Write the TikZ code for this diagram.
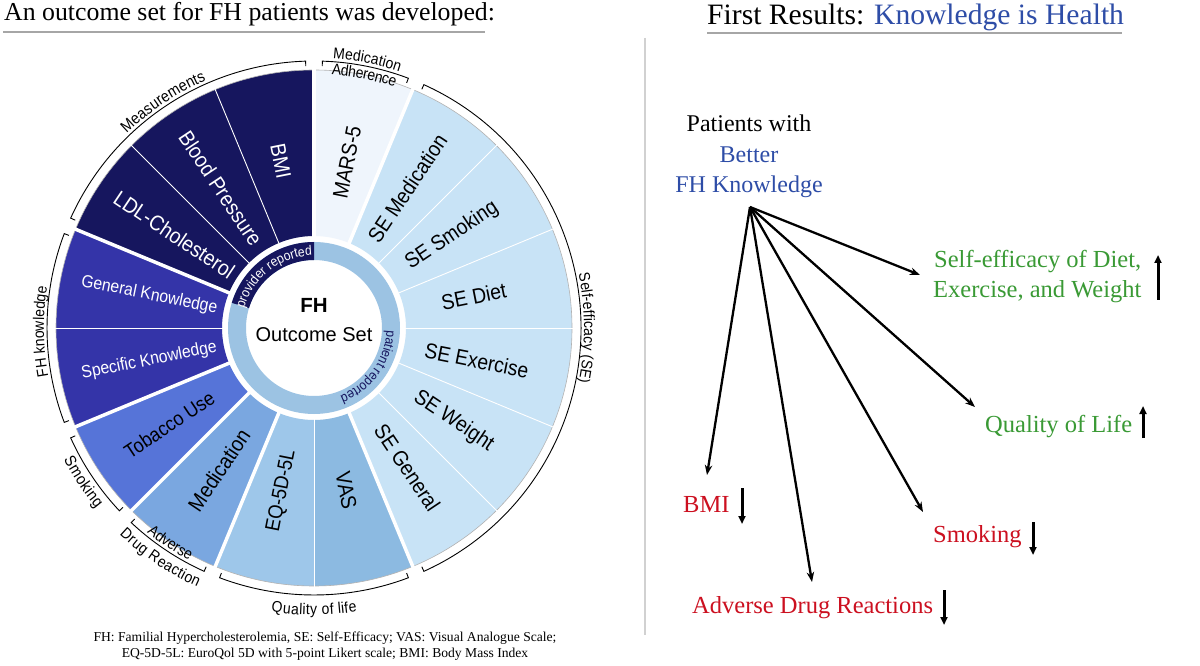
\documentclass[tikz,border=0pt]{standalone}
\usepackage{fontspec}
\setmainfont{Liberation Serif}
\newfontfamily\arialf{Liberation Sans}
\newfontfamily\narrowf[FakeStretch=0.9]{Liberation Sans}
\usetikzlibrary{decorations.text,arrows.meta}
\definecolor{navy}{RGB}{22,22,94}
\definecolor{knowc}{RGB}{52,52,168}
\definecolor{tobc}{RGB}{86,116,216}
\definecolor{medc}{RGB}{122,167,224}
\definecolor{eqc}{RGB}{158,199,234}
\definecolor{vasc}{RGB}{140,186,225}
\definecolor{sec}{RGB}{200,227,246}
\definecolor{marsc}{RGB}{239,245,252}
\definecolor{ringc}{RGB}{156,195,227}
\definecolor{kblue}{RGB}{46,77,167}
\definecolor{rgreen}{RGB}{58,154,53}
\definecolor{rred}{RGB}{204,16,32}
\newcommand\fsz[1]{\fontsize{#1}{#1}\selectfont}
\tikzset{
  seglbl/.style={font=\narrowf\fsz{21.5}, inner sep=0pt},
  knowlbl/.style={font=\narrowf\fsz{17.5}, inner sep=0pt, text=white},
  septhin/.style={draw=white, line width=0.9pt},
  septhick/.style={draw=white, line width=3.5pt},
  grparc/.style={draw=black, line width=0.9pt},
  rtext/.style={font=\fsz{24.5}, inner sep=0pt, anchor=base west},
  bigarrow/.style={-{Stealth[length=10pt,width=7.5pt]}, line width=2.3pt},
  smallarrow/.style={-{Triangle[length=8pt,width=7pt]}, line width=3pt},
  rule/.style={draw=black!35, line width=1.2pt},
}
\begin{document}
\begin{tikzpicture}[x=1pt,y=1pt]
\fill[white] (0,0) rectangle (1200,665);
\useasboundingbox (0,0) rectangle (1200,665);

% ---------- headers ----------
\node[anchor=base west, inner sep=0pt, font=\fsz{25.8}] (ltitle) at (4,644) {An outcome set for FH patients was developed:};
\draw[rule] (3,633) -- (485,633);
\node[anchor=base west, inner sep=0pt, font=\fsz{29.6}] (rtitle) at (707,640) {First Results: \textcolor{kblue}{Knowledge is Health}};
\draw[rule] (707,632) -- (1122,632);
\draw[draw=black!18, line width=2pt] (645,627) -- (645,30);

% ---------- wheel ----------
\begin{scope}[shift={(314,337)}]
  \foreach \s/\c in {67.5/marsc,45/sec,22.5/sec,0/sec,-22.5/sec,-45/sec,-67.5/sec,-90/vasc,-112.5/eqc,-135/medc,-157.5/tobc,180/knowc,157.5/knowc,135/navy,112.5/navy,90/navy}
    \fill[\c] (\s:92) arc[start angle=\s, delta angle=22.5, radius=92] -- (\s+22.5:258) arc[start angle=\s+22.5, delta angle=-22.5, radius=258] -- cycle;
  \draw[black!30, line width=0.6pt] (0,0) circle[radius=258];
  \foreach \a in {0,22.5,...,337.5}
    \draw[septhin] (\a:90) -- (\a:259);
  \foreach \a in {90,67.5,-67.5,-112.5,-135,-157.5,157.5}
    \draw[septhick] (\a:90) -- (\a:260);
  % inner ring
  \fill[ringc, even odd rule] (0,0) circle[radius=86] circle[radius=68];
  \fill[navy] (90:68) arc[start angle=90, end angle=163, radius=68] -- (163:86) arc[start angle=163, end angle=90, radius=86] -- cycle;
  \path[decorate, decoration={text along path, text align=center, text color=white, text={|\narrowf\fsz{13.5}|provider reported}}] (166:72.5) arc[start angle=166, end angle=90, radius=72.5];
  \path[decorate, decoration={text along path, text align=center, text color=navy, text={|\narrowf\fsz{13.5}|patient reported}}] (2:72.5) arc[start angle=2, end angle=-73, radius=72.5];
  \node[font=\arialf\bfseries\fsz{20.5}, inner sep=0pt] (fh) at (0,23) {FH};
  \node[font=\arialf\fsz{20}, inner sep=0pt] (os) at (0,-7) {Outcome Set};
  % segment labels
  \node[seglbl, text=white, rotate=-78.75] (bmi) at (101.25:170) {BMI};
  \node[seglbl, text=white, rotate=-56.25] (bp) at (123.75:168) {Blood Pressure};
  \node[seglbl, text=white, rotate=-33.75] (ldl) at (146.25:168) {LDL-Cholesterol};
  \node[knowlbl, rotate=-11.25] (gk) at (168.75:168) {General Knowledge};
  \node[knowlbl, rotate=11.25] (sk) at (191.25:168) {Specific Knowledge};
  \node[seglbl, font=\narrowf\fsz{20}, rotate=33.75] (tob) at (213.75:174) {Tobacco Use};
  \node[seglbl, rotate=56.25] (med) at (236.25:171) {Medication};
  \node[seglbl, font=\narrowf\fsz{20.5}, rotate=78.75] (eq) at (258.75:166) {EQ-5D-5L};
  \node[seglbl, rotate=-78.75] (vas) at (-78.75:166) {VAS};
  \node[seglbl, rotate=-56.25] (seg) at (-56.25:168) {SE General};
  \node[seglbl, rotate=-33.75] (sew) at (-33.75:168) {SE Weight};
  \node[seglbl, rotate=-11.25] (see) at (-11.25:166) {SE Exercise};
  \node[seglbl, rotate=11.25] (sed) at (11.25:163) {SE Diet};
  \node[seglbl, rotate=33.75] (ses) at (33.75:166) {SE Smoking};
  \node[seglbl, rotate=56.25] (sem) at (56.25:168) {SE Medication};
  \node[seglbl, rotate=78.75] (mars) at (78.75:169) {MARS-5};
  % group arcs
  \foreach \s/\e in {90/67.5, 67.5/-67.5, -67.5/-112.5, -112.5/-135, -135/-157.5, 202.5/157.5, 157.5/90}
    \draw[grparc] (\s-1.8:262) -- (\s-1.8:267) arc[start angle=\s-1.8, end angle=\e+1.8, radius=267] -- (\e+1.8:262);
  \path[decorate, decoration={text along path, text align=center, raise=3pt, text={|\narrowf\fsz{15.5}|Medication}}] (90:267) arc[start angle=90, end angle=67.5, radius=267];
  \path[decorate, decoration={text along path, text align=center, raise=-13pt, text={|\narrowf\fsz{15.5}|Adherence}}] (90:267) arc[start angle=90, end angle=67.5, radius=267];
  \path[decorate, decoration={text along path, text align=center, raise=3pt, text={|\narrowf\fsz{15.5}|Self-efficacy (SE)}}] (67.5:267) arc[start angle=67.5, end angle=-67.5, radius=267];
  \path[decorate, decoration={text along path, text align=center, raise=-20pt, text={|\narrowf\fsz{15.5}|Quality of life}}] (-112.5:267) arc[start angle=-112.5, end angle=-67.5, radius=267];
  \path[decorate, decoration={text along path, text align=center, raise=3pt, text={|\narrowf\fsz{15.5}|Adverse}}] (-135:267) arc[start angle=-135, end angle=-112.5, radius=267];
  \path[decorate, decoration={text along path, text align=center, raise=-17pt, text={|\narrowf\fsz{15.5}|Drug Reaction}}] (-135:267) arc[start angle=-135, end angle=-112.5, radius=267];
  \path[decorate, decoration={text along path, text align=center, raise=-16pt, text={|\narrowf\fsz{16}|Smoking}}] (-157.5:267) arc[start angle=-157.5, end angle=-135, radius=267];
  \path[decorate, decoration={text along path, text align=center, raise=3pt, text={|\narrowf\fsz{15.5}|FH knowledge}}] (204:267) arc[start angle=204, end angle=157.5, radius=267];
  \path[decorate, decoration={text along path, text align=center, raise=3pt, text={|\narrowf\fsz{16}|Measurements}}] (157.5:267) arc[start angle=157.5, end angle=90, radius=267];
\end{scope}

% ---------- footnote ----------
\node[anchor=base, inner sep=0pt, font=\fsz{13.6}] (fn1) at (325,24) {FH: Familial Hypercholesterolemia, SE: Self-Efficacy; VAS: Visual Analogue Scale;};
\node[anchor=base, inner sep=0pt, font=\fsz{13.6}] (fn2) at (325,8) {EQ-5D-5L: EuroQol 5D with 5-point Likert scale; BMI: Body Mass Index};

% ---------- right diagram ----------
\node[anchor=base, inner sep=0pt, font=\fsz{24}] (p1) at (749,533) {Patients with};
\node[anchor=base, inner sep=0pt, font=\fsz{24}, text=kblue] (p2) at (749,502) {Better};
\node[anchor=base, inner sep=0pt, font=\fsz{24}, text=kblue] (p3) at (749,472) {FH Knowledge};
\coordinate (hub) at (750,458);

\node[rtext, text=rgreen] (se1) at (934,397) {Self-efficacy of Diet,};
\node[rtext, text=rgreen] (se2) at (933,367) {Exercise, and Weight};
\node[rtext, text=rgreen] (qol) at (985,233) {Quality of Life};
\node[rtext, text=rred] (smk) at (933,123) {Smoking};
\node[rtext, text=rred] (adr) at (692,52) {Adverse Drug Reactions};
\node[rtext, text=rred] (bmir) at (683,153) {BMI};

\coordinate (tse) at (920,390);
\coordinate (tqol) at (975,258);
\coordinate (tsmk) at (923,153);
\coordinate (tadr) at (812,83);
\coordinate (tbmi) at (707,190);
\draw[bigarrow] (hub) -- (tse);
\draw[bigarrow] (hub) -- (tqol);
\draw[bigarrow] (hub) -- (tsmk);
\draw[bigarrow] (hub) -- (tadr);
\draw[bigarrow] (hub) -- (tbmi);

\coordinate (ua1) at (1158,365); \coordinate (ub1) at (1158,410);
\coordinate (ua2) at (1143,227); \coordinate (ub2) at (1143,259);
\coordinate (da1) at (1033,143); \coordinate (db1) at (1033,110);
\coordinate (da2) at (944,75);   \coordinate (db2) at (944,40);
\coordinate (da3) at (742,177);  \coordinate (db3) at (742,141);
\draw[smallarrow] (ua1) -- (ub1);
\draw[smallarrow] (ua2) -- (ub2);
\draw[smallarrow] (da1) -- (db1);
\draw[smallarrow] (da2) -- (db2);
\draw[smallarrow] (da3) -- (db3);
\end{tikzpicture}
\end{document}
